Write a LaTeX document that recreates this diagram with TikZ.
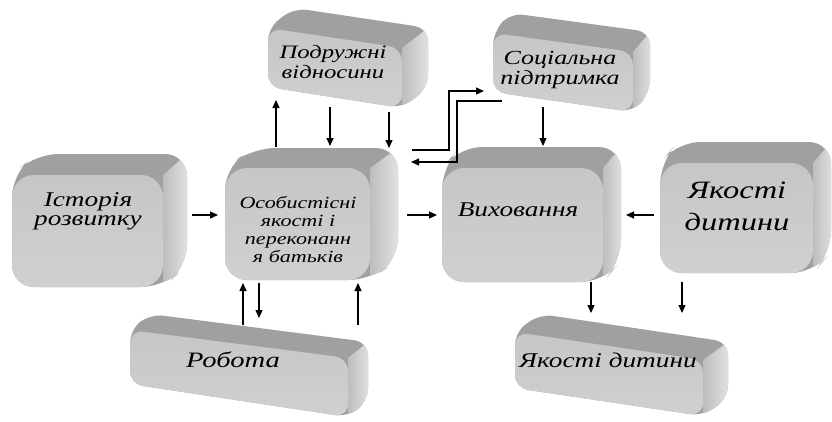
\documentclass[tikz,border=0pt]{standalone}
\usepackage{fontspec}
\newfontfamily\scrfont{Liberation Serif}[FakeStretch=1.3]
\usetikzlibrary{arrows.meta}
\definecolor{topc}{HTML}{A0A0A0}
\definecolor{sidea}{HTML}{BDBDBD}
\definecolor{sideb}{HTML}{E8E8E8}
\definecolor{fronta}{HTML}{C6C6C6}
\definecolor{frontb}{HTML}{D0D0D0}
% #1 left x, #2 right x, #3 TL y, #4 TR y, #5 BR y, #6 BL y, #7 dx, #8 dy(up), #9 radius
\newcommand\boxcube[9]{%
  \begin{scope}
    \clip[rounded corners=#9] (#1,#6) -- (#2,#5) -- (#2+#7,#5-#8) -- (#2+#7,#4-#8) -- (#1+#7,#3-#8) -- (#1,#3) -- cycle;
    \fill[topc] (#1-5,#3-#8-5) rectangle (#2+#7+5,#5+5);
    \shade[left color=sidea, right color=sideb] (#2,#4) -- (#2+#7,#4-#8) -- (#2+#7+5,#4-#8) -- (#2+#7+5,#5+5) -- (#2,#5+5) -- cycle;
  \end{scope}
  \shade[top color=fronta, bottom color=frontb, rounded corners=#9] (#1,#3) -- (#2,#4) -- (#2,#5) -- (#1,#6) -- cycle;
}
\tikzset{
  lbl/.style={align=center, inner sep=0pt, text=black},
  arr/.style={line width=1.2pt, -{Triangle[length=8pt,width=7pt]}},
}
\begin{document}
\begin{tikzpicture}[x=1pt,y=-1pt]
\useasboundingbox (0,0) rectangle (832,421);
\fill[white] (0,0) rectangle (832,421);

% boxes
\boxcube{12}{163}{175}{175}{287}{287}{24}{21}{22}   % A
\boxcube{225}{370}{168}{168}{280}{280}{28}{20}{22}  % B
\boxcube{442}{603}{168}{168}{282}{282}{18}{21}{22}  % C
\boxcube{660}{813}{163}{163}{273}{273}{18}{21}{22}  % D
\boxcube{268}{402}{28}{48}{108}{87}{26}{20}{13}     % E
\boxcube{493}{633}{33}{52}{112}{92}{17}{20}{13}     % F
\boxcube{130}{348}{330}{358}{417}{384}{20}{16}{13}  % G
\boxcube{515}{703}{332}{360}{416}{388}{25}{18}{13}  % H

% labels
\node[lbl, font=\fontsize{21}{19}\selectfont\scrfont\itshape] (tA) at (88,211) {Історія\\розвитку};
\node[lbl, font=\fontsize{17}{18}\selectfont\scrfont\itshape] (tB) at (298,229) {Особистісні\\якості і\\переконанн\\я батьків};
\node[lbl, font=\fontsize{21}{20}\selectfont\scrfont\itshape] (tC) at (518,210) {Виховання};
\node[lbl, font=\fontsize{25}{32}\selectfont\scrfont\itshape] (tD) at (737,206) {Якості\\дитини};
\node[lbl, font=\fontsize{19}{20}\selectfont\scrfont\itshape] (tE) at (333,62) {Подружні\\відносини};
\node[lbl, font=\fontsize{20}{20}\selectfont\scrfont\itshape] (tF) at (560,70) {Соціальна\\підтримка};
\node[lbl, font=\fontsize{22}{20}\selectfont\scrfont\itshape] (tG) at (233,360) {Робота};
\node[lbl, font=\fontsize{21}{20}\selectfont\scrfont\itshape] (tH) at (608,360) {Якості дитини};

% connector end points
\coordinate (ab1) at (192,215); \coordinate (ab2) at (218,215);
\coordinate (bc1) at (407,215); \coordinate (bc2) at (437,215);
\coordinate (dc1) at (654,215); \coordinate (dc2) at (626,215);
\coordinate (be1) at (276,147); \coordinate (be2) at (276,100);
\coordinate (eb1) at (330,107); \coordinate (eb2) at (330,146);
\coordinate (eb3) at (389,112); \coordinate (eb4) at (389,148);
\coordinate (bf1) at (412,150); \coordinate (bf2) at (449,150); \coordinate (bf3) at (449,91); \coordinate (bf4) at (484,91);
\coordinate (fb1) at (502,101); \coordinate (fb2) at (457,101); \coordinate (fb3) at (457,162); \coordinate (fb4) at (411,162);
\coordinate (fc1) at (543,107); \coordinate (fc2) at (543,146);
\coordinate (ch1) at (591,282); \coordinate (ch2) at (591,313);
\coordinate (dh1) at (682,282); \coordinate (dh2) at (682,313);
\coordinate (gb1) at (243,325); \coordinate (gb2) at (243,283);
\coordinate (bg1) at (259,283); \coordinate (bg2) at (259,318);
\coordinate (gb3) at (358,325); \coordinate (gb4) at (358,283);

\draw[arr] (ab1) -- (ab2);
\draw[arr] (bc1) -- (bc2);
\draw[arr] (dc1) -- (dc2);
\draw[arr] (be1) -- (be2);
\draw[arr] (eb1) -- (eb2);
\draw[arr] (eb3) -- (eb4);
\draw[arr] (bf1) -- (bf2) -- (bf3) -- (bf4);
\draw[arr] (fb1) -- (fb2) -- (fb3) -- (fb4);
\draw[arr] (fc1) -- (fc2);
\draw[arr] (ch1) -- (ch2);
\draw[arr] (dh1) -- (dh2);
\draw[arr] (gb1) -- (gb2);
\draw[arr] (bg1) -- (bg2);
\draw[arr] (gb3) -- (gb4);
\end{tikzpicture}
\end{document}
